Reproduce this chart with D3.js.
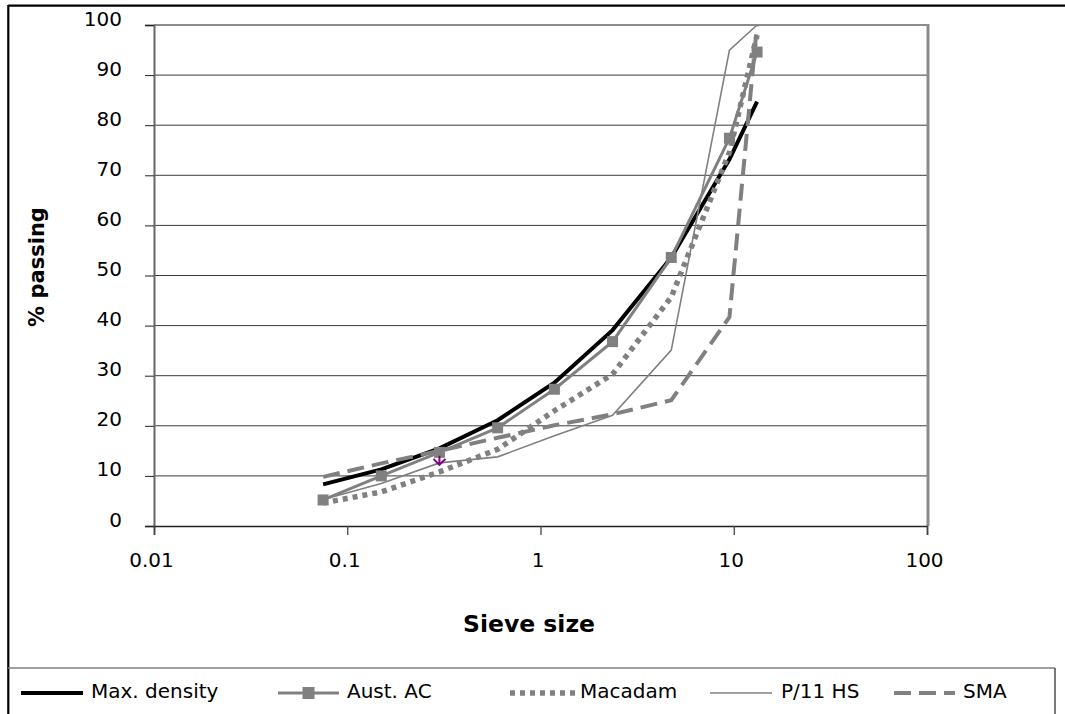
<!DOCTYPE html>
<html>
<head>
<meta charset="utf-8">
<script src="https://cdn.jsdelivr.net/npm/d3@7"></script>
<style>
  html, body { margin: 0; padding: 0; background: #fff; }
  svg { display: block; font-family: "DejaVu Sans", Verdana, sans-serif; }
</style>
</head>
<body>
<svg id="chart" width="1065" height="714"></svg>
<script>
// ---- data ----
const sieveSizes = [0.075, 0.15, 0.3, 0.6, 1.18, 2.36, 4.75, 9.5, 13.2];
const maxDensity = [8.3, 11.3, 15.5, 21.1, 28.6, 39.1, 53.6, 73.2, 84.7];
const austAC     = [5.2, 10.0, 14.7, 19.6, 27.3, 36.8, 53.6, 77.4, 94.6];
const macadam    = [4.6, 6.8, 10.8, 15.3, 23.0, 30.3, 45.7, 74.6, 98.0];
const p11HS      = [5.3, 8.5, 12.6, 13.8, 18.0, 22.1, 35.1, 95.0, 100.0];
const sma        = [9.8, 12.5, 15.0, 17.6, 20.1, 22.3, 25.1, 41.7, 100.0];
const strayMarker = [{ s: 0.3, v: 12.8 }];
const xTicks = [0.01, 0.1, 1, 10, 100];
const xTickLabels = ["0.01", "0.1", "1", "10", "100"];
const yTicks = [0, 10, 20, 30, 40, 50, 60, 70, 80, 90, 100];
const seriesNames = ["Max. density", "Aust. AC", "Macadam", "P/11 HS", "SMA"];

const svg = d3.select("#chart");
const L = 154, R = 927, T = 25, B = 526;
const x = d3.scaleLog().domain([0.01, 100]).range([L, R]);
const y = d3.scaleLinear().domain([0, 100]).range([B, T]);

// outer frame (top & left visible)
svg.append("line").attr("x1", 8.3).attr("x2", 1065).attr("y1", 5.7).attr("y2", 5.7)
  .attr("stroke", "#000").attr("stroke-width", 2.2);
svg.append("line").attr("x1", 8.3).attr("x2", 8.3).attr("y1", 5).attr("y2", 714)
  .attr("stroke", "#000").attr("stroke-width", 2.2);

// gridlines
svg.append("g").selectAll("line").data(yTicks.filter(d => d > 0 && d < 100)).join("line")
  .attr("x1", L).attr("x2", R).attr("y1", d => y(d)).attr("y2", d => y(d))
  .attr("stroke", "#3a3a3a").attr("stroke-width", 1);

// plot border top/right
svg.append("line").attr("x1", L).attr("x2", R + 1).attr("y1", T).attr("y2", T)
  .attr("stroke", "#8c8c8c").attr("stroke-width", 2);
svg.append("line").attr("x1", R + 1).attr("x2", R + 1).attr("y1", T - 1).attr("y2", B)
  .attr("stroke", "#8c8c8c").attr("stroke-width", 3);

// y axis
const yAxis = d3.axisLeft(y).tickValues(yTicks).tickSize(9).tickPadding(23);
const gy = svg.append("g").attr("transform", `translate(${L},0)`).call(yAxis);
gy.select(".domain").attr("stroke", "#666").attr("stroke-width", 2);
gy.selectAll(".tick line").attr("stroke", "#222").attr("stroke-width", 1);
gy.selectAll(".tick text").attr("font-size", 20).attr("fill", "#000")
  .attr("font-family", "DejaVu Sans, Verdana, sans-serif").attr("dy", "-0.0em");

// x axis
const xAxis = d3.axisBottom(x).tickValues(xTicks).tickFormat((d, i) => xTickLabels[i])
  .tickSize(9).tickPadding(18);
const gx = svg.append("g").attr("transform", `translate(0,${B})`).call(xAxis);
gx.select(".domain").attr("stroke", "#222").attr("stroke-width", 1.6);
gx.selectAll(".tick line").attr("stroke", "#444").attr("stroke-width", 1.3);
gx.selectAll(".tick text").attr("font-size", 20).attr("fill", "#000")
  .attr("font-family", "DejaVu Sans, Verdana, sans-serif").attr("dx", "-3");

// axis titles
svg.append("text").attr("x", 529).attr("y", 632).attr("text-anchor", "middle")
  .attr("font-size", 23.5).attr("font-weight", "bold").text("Sieve size");
svg.append("text").attr("transform", "translate(44,267) rotate(-90)").attr("text-anchor", "middle")
  .attr("font-size", 21).attr("font-weight", "bold").text("% passing");

// series
const mk = arr => sieveSizes.map((s, i) => ({ s, v: arr[i] }));
const line = d3.line().x(d => x(d.s)).y(d => y(d.v));
const styles = [
  { data: maxDensity, stroke: "#000", width: 4, dash: null },
  { data: austAC, stroke: "#808080", width: 3, dash: null, marker: true },
  { data: macadam, stroke: "#808080", width: 5.5, dash: "5,5" },
  { data: p11HS, stroke: "#808080", width: 1.6, dash: null },
  { data: sma, stroke: "#808080", width: 4, dash: "17,8" }
];
const gs = svg.append("g");
styles.forEach(st => {
  gs.append("path").datum(mk(st.data)).attr("d", line).attr("fill", "none")
    .attr("stroke", st.stroke).attr("stroke-width", st.width)
    .attr("stroke-dasharray", st.dash).attr("stroke-linejoin", "miter");
  if (st.marker) {
    gs.selectAll(null).data(mk(st.data)).join("rect")
      .attr("x", d => x(d.s) - 5.5).attr("y", d => y(d.v) - 5.5)
      .attr("width", 11).attr("height", 11).attr("fill", "#808080");
  }
});
// stray purple marker
gs.selectAll(null).data(strayMarker).join("path")
  .attr("transform", d => `translate(${x(d.s)},${y(d.v)})`)
  .attr("d", "M-6,-3 L0,3 L6,-3 M0,-6 L0,3").attr("fill", "none")
  .attr("stroke", "#800080").attr("stroke-width", 2);

// legend box
svg.append("line").attr("x1", 8).attr("x2", 1055).attr("y1", 668).attr("y2", 668)
  .attr("stroke", "#808080").attr("stroke-width", 1.5);
svg.append("line").attr("x1", 1055).attr("x2", 1055).attr("y1", 668).attr("y2", 714)
  .attr("stroke", "#222").attr("stroke-width", 1.2);

const legPos = [
  { x1: 21, x2: 83, tx: 91 },
  { x1: 278, x2: 339, tx: 347 },
  { x1: 510, x2: 576, tx: 580 },
  { x1: 710, x2: 772, tx: 781 },
  { x1: 894, x2: 955, tx: 963 }
];
const ly = 693;
const gl = svg.append("g");
styles.forEach((st, i) => {
  const p = legPos[i];
  gl.append("line").attr("x1", p.x1).attr("x2", p.x2).attr("y1", ly).attr("y2", ly)
    .attr("stroke", st.stroke).attr("stroke-width", st.width)
    .attr("stroke-dasharray", st.dash);
  if (st.marker) {
    gl.append("rect").attr("x", (p.x1 + p.x2) / 2 - 6).attr("y", ly - 6)
      .attr("width", 12).attr("height", 12).attr("fill", "#808080");
  }
  gl.append("text").attr("x", p.tx).attr("y", 698).attr("font-size", 20)
    .attr("fill", "#000").text(seriesNames[i]);
});
</script>
</body>
</html>
